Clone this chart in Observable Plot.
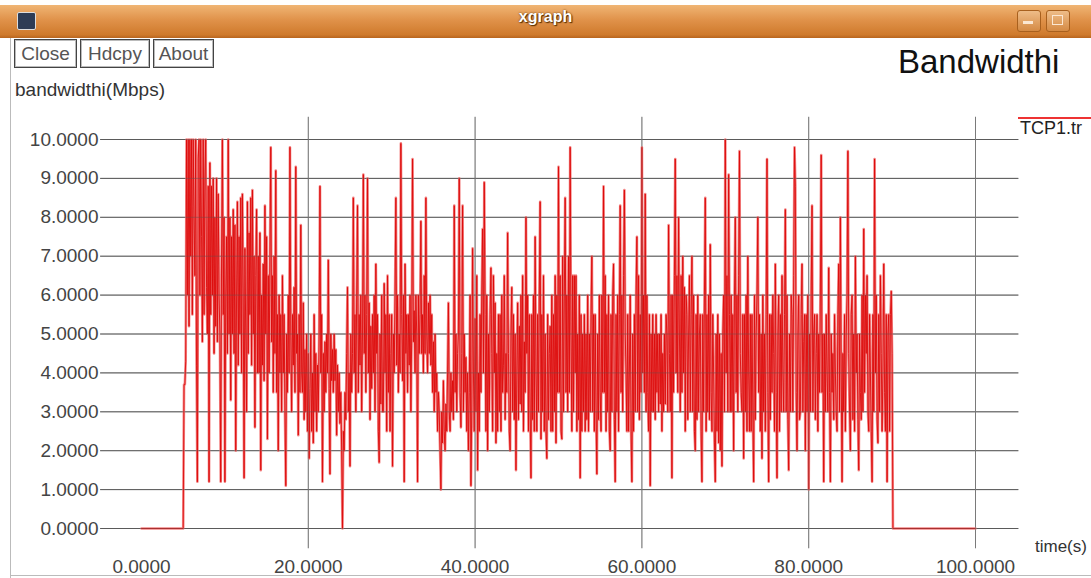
<!DOCTYPE html>
<html>
<head>
<meta charset="utf-8">
<script src="https://cdn.jsdelivr.net/npm/d3@7"></script>
<script src="https://cdn.jsdelivr.net/npm/@observablehq/plot@0.6"></script>
<style>
  body { margin:0; width:1091px; height:578px; position:relative; overflow:hidden; background:#fff;
         font-family:"Liberation Sans", Arial, sans-serif; }
  .abs { position:absolute; white-space:nowrap; }
  .btn { position:absolute; top:39px; height:27px; border:1px solid #444; box-shadow: inset 0 0 0 1px #bbb;
         font-size:19px; line-height:27px; color:#555; text-align:center; background:#fff; }
</style>
</head>
<body>
<div id="chart" class="abs" style="left:0;top:0"></div>

<!-- window chrome -->
<div class="abs" style="left:0;top:5px;width:1091px;height:33px;background:linear-gradient(#f0b574,#e0924a 45%,#cf7a2c 90%,#b8651e);"></div>
<div class="abs" style="left:17px;top:12px;width:17px;height:16px;background:#2e3c55;border:1px solid #ddd;border-radius:2px;"></div>
<div class="abs" style="left:0;top:8px;width:1091px;text-align:center;font-weight:bold;font-size:16px;color:#fff;text-shadow:0 0 2px #5a3000,1px 1px 1px #5a3000;">xgraph</div>
<div class="abs" style="left:1017px;top:10px;width:22px;height:20px;background:linear-gradient(#eebc88,#d58a44);border:1px solid #a8601e;border-radius:3px;"></div>
<div class="abs" style="left:1023px;top:21px;width:10px;height:3px;background:#fbe7d2;"></div>
<div class="abs" style="left:1046px;top:10px;width:22px;height:20px;background:linear-gradient(#eebc88,#d58a44);border:1px solid #a8601e;border-radius:3px;"></div>
<div class="abs" style="left:1052px;top:15px;width:9px;height:8px;border:1px solid #fbe7d2;"></div>
<div class="abs" style="left:10px;top:38px;width:1px;height:540px;background:#bbb;"></div>
<div class="abs" style="left:10px;top:575px;width:1081px;height:1px;background:#bbb;"></div>

<div class="btn" style="left:14px;width:61px;">Close</div>
<div class="btn" style="left:80px;width:68px;">Hdcpy</div>
<div class="btn" style="left:153px;width:59px;">About</div>

<div class="abs" style="left:15px;top:79px;font-size:19px;color:#333;">bandwidthi(Mbps)</div>
<div class="abs" style="left:898px;top:43px;font-size:33px;color:#111;">Bandwidthi</div>
<div class="abs" style="left:1018px;top:117px;width:73px;height:2px;background:#e33;"></div>
<div class="abs" style="left:1020px;top:118px;font-size:18px;color:#222;">TCP1.tr</div>
<div class="abs" style="left:1035px;top:537px;font-size:17px;color:#333;">time(s)</div>

<script>
// ---- data ----
const yTicks = [0,1,2,3,4,5,6,7,8,9,10];
const xTicks = [0,20,40,60,80,100];
const xGridTicks = [20,40,60,80,100];
const seriesName = "TCP1.tr";
// idle (zero) stretches before and after the transfer: [time, value]
const idleBefore = [[0, 0]];
const idleAfter = [[90.1, 0], [100, 0]];
// active transfer: one bandwidth value (Mbps) every 0.1 s from t = 5.0 to t = 90.0
const activeStart = 5.0;
const sampleStep = 0.1;
const bandwidth = [
  0,3.7,3.7,4.3,10,6.0,10,5.2,10,7.0,          // 5
  10,5.5,10,8.0,6.5,10,4.2,1.2,9.5,10,         // 6
  6.0,10,7.5,4.8,10,5.5,9.0,10,6.2,5.0,        // 7
  8.8,1.2,9.4,5.5,8.8,6.0,9.0,4.5,8.0,5.2,     // 8
  9.0,4.8,8.6,6.0,5.0,1.2,7.0,10,5.5,8.0,      // 9
  1.2,6.0,7.5,4.5,10,5.0,8.0,3.3,7.5,5.0,      // 10
  8.2,4.5,7.8,2.0,6.0,8.4,4.2,7.5,5.0,8.5,     // 11
  4.0,8.6,6.0,1.3,7.2,5.0,3.0,8.4,4.5,7.6,     // 12
  5.5,8.5,4.2,8.7,5.0,7.0,2.6,6.5,8.2,4.0,     // 13
  7.0,4.0,7.6,1.5,6.0,4.2,6.8,3.8,8.3,5.0,     // 14
  7.5,2.3,6.5,4.0,7.0,9.8,4.8,6.5,3.5,7.0,     // 15
  4.5,9.2,3.5,5.5,2.0,6.0,4.0,5.5,3.0,6.5,     // 16
  4.0,5.5,3.0,1.1,5.0,3.5,6.0,4.0,9.8,5.0,     // 17
  3.0,5.5,4.2,6.2,3.5,9.3,4.5,5.0,2.4,5.5,     // 18
  3.5,7.8,4.0,3.5,5.8,2.8,4.6,3.0,5.0,2.5,     // 19
  4.5,1.8,3.6,5.0,2.5,4.0,2.2,5.5,3.0,4.5,     // 20
  2.5,4.2,3.0,5.0,8.8,4.0,5.5,1.2,4.5,3.0,     // 21
  4.8,3.5,5.0,4.0,6.9,3.6,1.4,5.0,3.8,4.6,     // 22
  3.5,5.0,3.8,4.6,2.4,4.2,3.0,4.0,2.7,3.5,     // 23
  2.0,0.0,2.5,2.0,3.5,2.8,4.5,6.2,3.0,4.0,     // 24
  1.6,5.0,3.5,4.5,8.5,4.0,5.5,3.0,6.0,8.3,     // 25
  3.5,5.5,4.2,6.0,3.0,5.0,9.1,4.5,6.0,3.5,     // 26
  5.5,9.0,4.0,5.8,2.8,5.2,3.6,5.5,4.0,6.0,     // 27
  3.0,6.8,4.5,5.5,2.5,1.7,5.0,3.2,6.0,3.0,     // 28
  3.0,6.3,4.0,5.5,2.5,6.5,3.5,5.5,2.5,4.5,     // 29
  5.5,1.6,5.0,4.0,6.0,8.5,4.2,6.0,3.5,5.0,     // 30
  4.0,9.9,5.5,3.8,6.0,1.2,6.8,4.5,5.5,3.5,     // 31
  5.5,4.2,6.0,3.0,5.0,9.5,4.8,5.6,4.0,6.0,     // 32
  5.0,1.2,6.0,4.5,5.5,7.9,4.5,5.5,4.0,6.5,     // 33
  4.5,8.5,5.0,4.0,5.8,4.5,6.0,4.2,5.5,3.5,     // 34
  4.8,3.0,5.0,3.5,4.0,2.5,3.5,3.0,2.0,1.0,     // 35
  3.0,2.2,3.8,2.5,2.0,3.2,2.5,4.0,5.8,3.0,     // 36
  2.5,4.0,3.0,3.8,2.8,8.3,3.5,5.0,3.0,4.5,     // 37
  5.0,9.0,3.5,2.6,4.5,8.3,3.0,5.0,3.5,4.4,     // 38
  2.5,4.0,2.0,3.5,6.0,1.1,3.0,7.2,4.0,2.5,     // 39
  5.4,3.0,6.5,1.5,4.0,2.5,5.5,3.5,6.0,7.7,     // 40
  4.0,8.9,5.5,2.5,6.0,2.0,5.0,3.0,5.5,6.7,     // 41
  4.5,2.5,6.5,4.0,5.8,2.2,4.5,2.5,5.5,3.0,     // 42
  5.5,2.5,6.0,3.5,4.2,6.5,2.8,4.5,3.5,7.6,     // 43
  4.5,2.5,2.0,5.0,6.2,3.0,5.5,2.8,5.0,1.5,     // 44
  4.0,5.8,2.8,5.2,3.2,6.0,3.0,6.5,2.5,4.8,     // 45
  3.5,8.0,4.5,6.0,2.5,5.5,3.0,1.3,5.5,2.8,     // 46
  6.0,2.5,7.5,4.0,2.5,5.5,3.0,6.0,8.4,2.3,     // 47
  5.5,3.0,6.5,2.5,5.0,2.5,1.8,5.5,2.8,4.5,     // 48
  5.2,2.5,6.0,2.5,5.5,3.0,6.5,2.2,6.0,3.5,     // 49
  9.3,3.5,6.5,2.5,2.3,7.0,3.0,6.0,8.5,3.5,     // 50
  6.0,3.0,7.0,3.5,9.8,5.0,2.5,6.5,3.0,6.5,     // 51
  4.0,6.5,2.5,5.0,2.8,6.0,1.3,5.5,2.5,5.0,     // 52
  3.0,5.5,2.5,5.0,2.8,6.0,2.5,5.0,3.0,5.5,     // 53
  7.0,3.0,5.5,2.5,5.5,3.0,1.4,5.0,2.8,6.0,     // 54
  3.5,2.5,6.0,3.5,8.8,3.5,6.5,2.5,5.5,3.0,     // 55
  6.0,2.5,2.0,5.5,3.0,6.0,6.8,2.8,1.2,5.5,     // 56
  3.0,6.0,2.5,5.5,8.3,3.5,6.0,3.0,6.5,8.7,     // 57
  5.0,4.0,2.5,5.5,2.5,4.0,6.0,2.5,1.2,5.0,     // 58
  2.5,5.5,3.0,6.0,7.5,3.0,6.5,2.8,5.5,3.5,     // 59
  9.8,4.0,6.0,3.5,8.6,3.0,6.0,3.5,2.5,5.5,     // 60
  1.1,5.0,3.0,5.5,3.0,5.0,2.8,5.5,3.5,5.0,     // 61
  3.0,5.0,3.2,5.5,2.5,4.5,3.0,5.0,3.2,5.5,     // 62
  5.0,3.0,7.8,4.5,3.0,6.0,1.3,6.0,3.5,6.5,     // 63
  9.5,4.0,6.5,3.5,8.0,5.0,3.0,6.5,3.5,7.0,     // 64
  4.0,6.2,2.5,6.0,5.5,2.8,5.0,6.5,3.0,5.5,     // 65
  7.0,3.0,6.0,2.5,2.0,5.5,2.8,6.0,3.0,5.0,     // 66
  5.5,2.5,1.2,5.5,3.0,6.0,8.5,2.5,5.5,3.0,     // 67
  6.0,2.8,7.3,3.5,2.5,5.5,4.0,2.2,1.2,5.0,     // 68
  2.5,5.5,2.2,5.0,2.0,4.5,1.6,5.0,6.0,3.0,     // 69
  10,4.0,6.5,3.0,9.1,5.5,3.0,6.0,3.0,5.5,      // 70
  2.0,6.0,8.0,3.5,6.0,3.0,6.5,9.7,4.5,3.5,     // 71
  3.0,5.5,1.8,5.5,3.0,6.0,2.5,7.0,4.0,2.5,     // 72
  5.5,2.5,5.5,3.0,1.2,6.0,2.8,5.0,6.0,8.0,     // 73
  3.5,5.5,2.5,5.0,1.8,6.0,3.0,5.0,2.5,5.5,     // 74
  9.5,3.5,1.2,5.5,2.8,5.5,3.5,6.0,4.5,2.5,     // 75
  6.8,3.5,1.3,5.0,6.0,2.5,5.5,3.0,6.5,4.0,     // 76
  3.0,5.5,8.2,3.0,6.0,2.8,1.5,5.0,3.0,6.0,     // 77
  5.5,3.0,6.5,9.8,8.8,3.5,2.0,5.0,6.0,2.8,     // 78
  3.0,5.5,6.8,3.0,4.8,5.5,2.0,5.5,3.0,6.0,     // 79
  1.0,5.0,3.0,6.0,8.3,3.0,5.0,5.5,2.8,4.5,     // 80
  5.5,2.5,5.0,3.5,6.0,9.6,3.5,5.0,1.2,5.0,     // 81
  3.0,5.5,4.0,3.0,6.7,3.5,1.2,5.0,3.5,4.5,     // 82
  2.8,5.5,4.0,3.0,2.5,5.5,6.8,3.0,8.0,4.0,     // 83
  1.2,4.5,3.0,5.5,2.5,5.0,6.0,9.7,4.5,3.0,     // 84
  2.0,5.5,6.0,2.8,5.0,2.5,7.0,4.0,5.0,2.8,     // 85
  1.5,5.0,3.5,2.8,6.0,3.0,7.7,3.5,6.0,4.5,     // 86
  6.5,3.0,2.5,5.5,4.0,2.5,1.2,5.5,3.0,9.5,     // 87
  4.0,6.0,2.8,2.2,5.5,3.0,6.5,4.5,2.5,4.0,     // 88
  6.8,3.5,2.5,5.5,1.2,5.0,5.5,2.5,5.5,6.1,     // 89
  4.5                                          // 90.0
];

const data = [
  ...idleBefore.map(([t, v]) => ({time: t, value: v})),
  ...bandwidth.map((v, i) => ({time: +(activeStart + i * sampleStep).toFixed(1), value: v})),
  ...idleAfter.map(([t, v]) => ({time: t, value: v}))
];

const fmt = d => d.toFixed(4);

const chart = Plot.plot({
  width: 1091,
  height: 578,
  marginLeft: 141,
  marginRight: 116,
  marginTop: 139,
  marginBottom: 50,
  style: {background: "transparent", fontFamily: "'Liberation Sans', Arial, sans-serif", fontSize: "19px", color: "#444"},
  x: {domain: [0, 100], label: null},
  y: {domain: [0, 10], label: null},
  marks: [
    Plot.ruleY(yTicks, {y: d => d, x1: -4.9, x2: 105.2, stroke: "#5a5a5a", strokeWidth: 1}),
    Plot.ruleX(xGridTicks, {x: d => d, y1: -0.52, y2: 10.57, stroke: "#7a7a7a", strokeWidth: 1}),
    // soft halo (blurry screenshot look) + crisp red core
    Plot.line(data, {x: "time", y: "value", stroke: "#f27a7a", strokeWidth: 2.6, strokeOpacity: 0.9, curve: "linear"}),
    Plot.line(data, {x: "time", y: "value", stroke: "#dc0a0a", strokeWidth: 0.9, curve: "linear"}),
    Plot.ruleY(yTicks, {y: d => d, x1: -4.9, x2: 105.2, stroke: "#5a5a5a", strokeWidth: 1, strokeOpacity: 0.4}),
    Plot.ruleX(xGridTicks, {x: d => d, y1: -0.52, y2: 10.57, stroke: "#7a7a7a", strokeWidth: 1, strokeOpacity: 0.4}),
    Plot.axisY(yTicks, {tickSize: 0, tickPadding: 43, tickFormat: fmt, fill: "#444", fontSize: 19, label: null}),
    Plot.axisX(xTicks, {tickSize: 0, tickPadding: 31, tickFormat: fmt, fill: "#444", fontSize: 19, label: null})
  ]
});
document.getElementById("chart").appendChild(chart);
</script>
</body>
</html>
